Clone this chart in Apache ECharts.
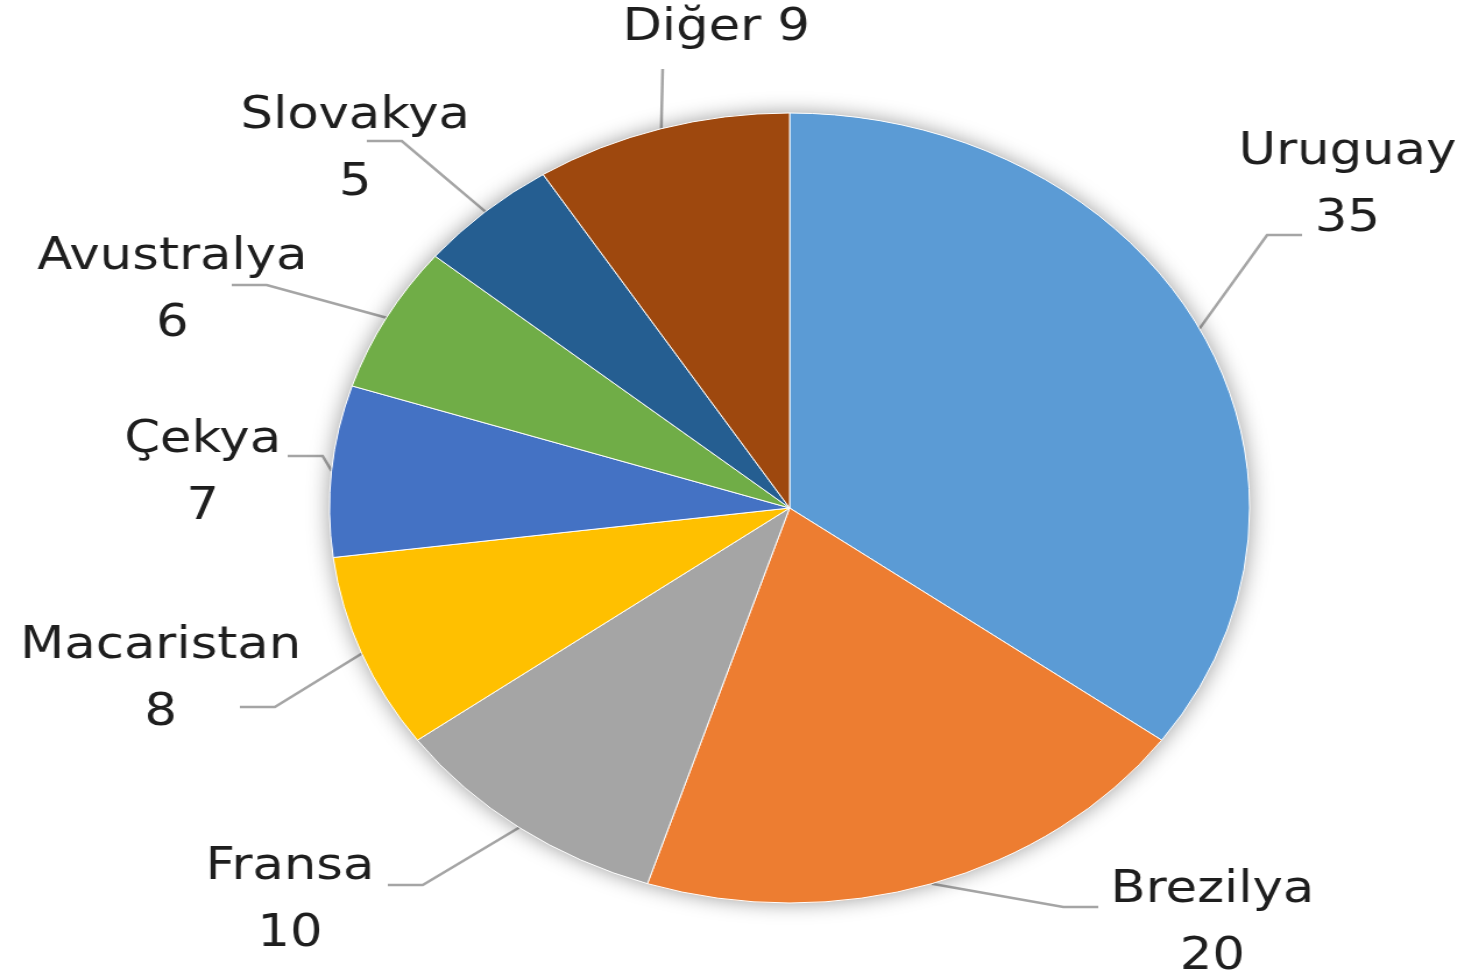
<!DOCTYPE html>
<html>
<head>
<meta charset="utf-8">
<script src="https://cdn.jsdelivr.net/npm/echarts@6/dist/echarts.min.js"></script>
<style>
  html, body { margin: 0; padding: 0; background: #fff; overflow: hidden; }
  /* the reference pie is an ellipse, so the whole chart is stretched sideways */
  #pie { width: 1263px; height: 978px; transform: scaleX(1.1646); transform-origin: 0 0; }
</style>
</head>
<body>
<div id="pie"></div>
<script>
  var countries = ['Uruguay', 'Brezilya', 'Fransa', 'Macaristan', 'Çekya', 'Avustralya', 'Slovakya', 'Diğer'];
  var values = [35, 20, 10, 8, 7, 6, 5, 9];
  var colors = ['#5B9BD5', '#ED7D31', '#A5A5A5', '#FFC000', '#4472C4', '#70AD47', '#255E91', '#9E480E'];

  // label layout (unstretched chart pixels): centre of each label block,
  // and the point where its leader line ends
  var labelSpots = [[1157, 186], [1041, 924], [249, 901], [138, 680], [174, 474], [148, 291], [305, 150], [615, 29]];
  var leaderEnds = [[1118, 235], [943, 907], [333, 885], [206, 707], [247, 456], [199, 285], [315, 141], [569, 69]];

  var CX = 678, CY = 508, R = 395;

  var pieData = countries.map(function (name, i) {
    return { name: name, value: values[i] };
  });

  // middle angle of every slice, clockwise from 12 o'clock
  var total = values.reduce(function (a, b) { return a + b; }, 0);
  var midAngles = [];
  var acc = 0;
  values.forEach(function (v) {
    midAngles.push((acc + v / 2) / total * 2 * Math.PI);
    acc += v;
  });

  function leaderPoints(i) {
    var a = midAngles[i];
    var start = [CX + R * Math.sin(a), CY - R * Math.cos(a)];
    var end = leaderEnds[i];
    var elbow;
    if (countries[i] === 'Diğer') {
      elbow = end.slice();
    } else {
      elbow = [end[0] + (end[0] < CX ? 30 : -30), end[1]];
    }
    return [start, elbow, end];
  }

  var myChart = echarts.init(document.getElementById('pie'));
  myChart.setOption({
    color: colors,
    animation: false,
    series: [
      {
        // soft shadow behind the pie
        type: 'pie',
        silent: true,
        center: [CX, CY],
        radius: R,
        label: { show: false },
        labelLine: { show: false },
        itemStyle: { color: '#fff', shadowBlur: 20, shadowColor: 'rgba(0,0,0,0.4)' },
        data: [{ value: 1 }]
      },
      {
        type: 'pie',
        center: [CX, CY],
        radius: R,
        startAngle: 90,
        clockwise: true,
        data: pieData,
        itemStyle: { borderColor: '#fff', borderWidth: 1 },
        label: {
          position: 'outside',
          overflow: 'none',
          fontFamily: 'DejaVu Sans',
          fontSize: 44,
          lineHeight: 67,
          color: '#1e1e1e',
          formatter: function (p) {
            return p.name === 'Diğer' ? p.name + ' ' + p.value : p.name + '\n' + p.value;
          }
        },
        labelLine: {
          length: 40,
          length2: 30,
          lineStyle: { color: '#A5A5A5', width: 2.5 }
        },
        labelLayout: function (p) {
          var spot = labelSpots[p.dataIndex];
          return {
            x: spot[0],
            y: spot[1],
            align: 'center',
            verticalAlign: 'middle',
            labelLinePoints: leaderPoints(p.dataIndex)
          };
        }
      }
    ]
  });
</script>
</body>
</html>
